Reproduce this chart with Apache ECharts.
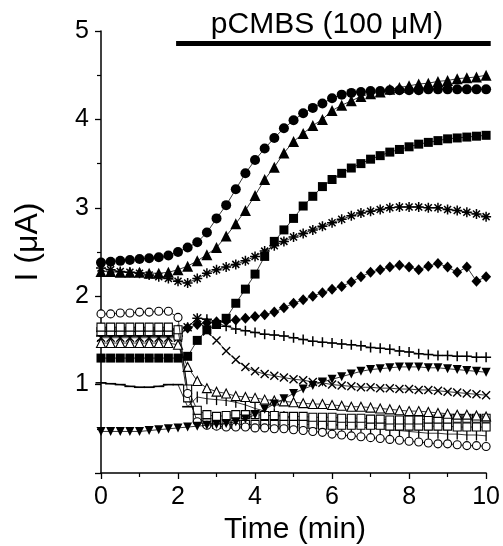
<!DOCTYPE html>
<html>
<head>
<meta charset="utf-8">
<script src="https://cdn.jsdelivr.net/npm/echarts@6/dist/echarts.min.js"></script>
<style>
html,body{margin:0;padding:0;background:#fff;}
#chart{width:503px;height:546px;}
</style>
</head>
<body>
<div id="chart"></div>
<script>
// ---- data ----
const time = [0,0.25,0.5,0.75,1,1.25,1.5,1.75,2,2.25,2.5,2.75,3,3.25,3.5,3.75,4,4.25,4.5,4.75,5,5.25,5.5,5.75,6,6.25,6.5,6.75,7,7.25,7.5,7.75,8,8.25,8.5,8.75,9,9.25,9.5,9.75,10];
const xTicks = [0,2,4,6,8,10];
const yTicks = [1,2,3,4,5];

const filledCircle = [2.38,2.39,2.40,2.41,2.42,2.43,2.44,2.46,2.50,2.55,2.61,2.72,2.88,3.03,3.21,3.39,3.54,3.67,3.79,3.90,3.99,4.07,4.13,4.18,4.24,4.28,4.30,4.31,4.32,4.32,4.33,4.33,4.33,4.33,4.34,4.34,4.34,4.34,4.34,4.34,4.34];
const filledTriUp = [2.28,2.28,2.27,2.27,2.27,2.26,2.26,2.27,2.30,2.34,2.40,2.47,2.55,2.68,2.82,2.97,3.14,3.32,3.46,3.62,3.75,3.84,3.93,4.00,4.10,4.16,4.21,4.26,4.29,4.31,4.34,4.36,4.38,4.40,4.41,4.43,4.44,4.46,4.47,4.48,4.50];
const filledSquare = [1.30,1.30,1.30,1.30,1.30,1.30,1.30,1.30,1.30,1.32,1.50,1.62,1.68,1.75,1.92,2.08,2.25,2.45,2.62,2.75,2.88,3.02,3.13,3.24,3.32,3.39,3.45,3.50,3.55,3.59,3.63,3.66,3.69,3.72,3.74,3.76,3.78,3.79,3.80,3.81,3.82];
const asterisk = [2.32,2.30,2.28,2.27,2.26,2.24,2.22,2.20,2.17,2.15,2.20,2.26,2.30,2.33,2.36,2.40,2.45,2.51,2.57,2.62,2.67,2.71,2.75,2.79,2.83,2.87,2.91,2.94,2.96,2.98,3.00,3.01,3.01,3.01,3.00,3.00,2.98,2.97,2.95,2.93,2.90];
const filledDiamond = [1.60,1.60,1.60,1.60,1.60,1.61,1.61,1.61,1.62,1.64,1.68,1.70,1.71,1.72,1.73,1.75,1.77,1.79,1.82,1.87,1.92,1.96,2.00,2.04,2.08,2.11,2.16,2.22,2.27,2.30,2.33,2.35,2.33,2.30,2.34,2.37,2.33,2.27,2.33,2.17,2.22];
const plusSign = [1.55,1.55,1.55,1.55,1.55,1.55,1.55,1.55,1.55,1.65,1.75,1.74,1.70,1.66,1.63,1.61,1.59,1.57,1.56,1.55,1.53,1.51,1.49,1.48,1.47,1.46,1.45,1.44,1.42,1.41,1.40,1.38,1.37,1.35,1.34,1.33,1.33,1.32,1.32,1.31,1.31];
const crossSign = [1.53,1.53,1.53,1.53,1.53,1.53,1.53,1.53,1.53,1.65,1.75,1.60,1.50,1.38,1.28,1.20,1.15,1.12,1.10,1.08,1.06,1.05,1.03,1.02,1.00,0.99,0.98,0.97,0.97,0.96,0.96,0.95,0.95,0.94,0.94,0.93,0.92,0.91,0.90,0.89,0.88];
const filledTriDown = [0.47,0.47,0.47,0.47,0.47,0.48,0.49,0.50,0.51,0.52,0.53,0.54,0.55,0.56,0.58,0.61,0.66,0.72,0.78,0.84,0.90,0.95,0.99,1.03,1.06,1.09,1.12,1.15,1.17,1.18,1.19,1.20,1.20,1.20,1.19,1.19,1.18,1.17,1.16,1.15,1.14];
const openTriangle = [1.47,1.47,1.47,1.47,1.47,1.47,1.47,1.47,1.45,1.20,1.04,0.96,0.92,0.90,0.87,0.86,0.85,0.83,0.82,0.81,0.80,0.79,0.78,0.78,0.77,0.76,0.75,0.75,0.74,0.73,0.72,0.71,0.70,0.70,0.69,0.68,0.67,0.66,0.66,0.65,0.64];
const openSquareA = [1.65,1.65,1.65,1.65,1.65,1.65,1.65,1.65,1.62,0.95,0.71,0.66,0.64,0.65,0.66,0.66,0.66,0.65,0.65,0.64,0.64,0.64,0.63,0.63,0.63,0.62,0.62,0.62,0.61,0.61,0.60,0.60,0.60,0.60,0.61,0.61,0.61,0.62,0.62,0.62,0.62];
const openSquareB = [1.60,1.60,1.60,1.60,1.60,1.60,1.60,1.60,1.55,0.85,0.62,0.57,0.55,0.55,0.55,0.55,0.55,0.55,0.55,0.55,0.55,0.55,0.55,0.54,0.54,0.54,0.54,0.54,0.54,0.54,0.53,0.53,0.53,0.53,0.53,0.53,0.53,0.52,0.52,0.52,0.52];
const openCircle = [1.80,1.80,1.81,1.81,1.82,1.82,1.83,1.83,1.76,0.90,0.58,0.54,0.53,0.52,0.52,0.52,0.51,0.51,0.50,0.50,0.49,0.48,0.47,0.46,0.44,0.43,0.42,0.41,0.40,0.39,0.38,0.37,0.36,0.35,0.34,0.33,0.33,0.32,0.31,0.31,0.30];
const dashTrace = [1.02,1.01,1.00,0.98,0.97,0.97,0.98,1.00,1.00,0.75,0.86,0.84,0.83,0.82,0.80,0.77,0.73,0.70,0.67,0.64,0.61,0.59,0.57,0.56,0.55,0.54,0.53,0.52,0.51,0.50,0.49,0.48,0.47,0.46,0.45,0.45,0.44,0.44,0.43,0.43,0.42];

const drugLabel = 'pCMBS (100 μM)';
const drugSpan = [1.95, 10.12];
const drugLevel = 4.86;

// ---- chart ----
const FONT = 'Liberation Sans, Arial, sans-serif';
const chart = echarts.init(document.getElementById('chart'), null, {renderer: 'canvas'});

function pairs(vals) { return time.map((t, i) => [t, vals[i]]); }

function mk(name, vals, symbol, size, fill, stroke, bw, z) {
  return {
    name: name, type: 'line', data: pairs(vals), symbol: symbol, symbolSize: size,
    showSymbol: true, z: z,
    itemStyle: {color: fill, borderColor: stroke, borderWidth: bw},
    lineStyle: {color: '#000', width: 0.8},
    emphasis: {disabled: true}
  };
}

const dashData = time.map((t, i) => ({
  value: [t, dashTrace[i]],
  symbol: 'rect',
  symbolSize: i < 10 ? [11, 1.6] : [1.3, 11]
}));

const series = [
  {name: 'trace', type: 'line', data: dashData, z: 1, itemStyle: {color: '#000'},
   lineStyle: {color: '#000', width: 0.8}, emphasis: {disabled: true}},
  mk('diamond', filledDiamond, 'diamond', [10, 11], '#000', '#000', 0, 2),
  mk('plus', plusSign, 'path://M5,0L5,10M0,5L10,5', 10, 'rgba(0,0,0,0)', '#000', 1.5, 3),
  mk('cross', crossSign, 'path://M0,0L10,10M10,0L0,10', 8, 'rgba(0,0,0,0)', '#000', 1.4, 4),
  mk('openSqB', openSquareB, 'rect', 8, '#fff', '#000', 1.1, 5),
  mk('openSqA', openSquareA, 'rect', 8, '#fff', '#000', 1.1, 6),
  mk('openTri', openTriangle, 'triangle', 9, '#fff', '#000', 1.1, 7),
  mk('openCirc', openCircle, 'circle', 8, '#fff', '#000', 1.1, 8),
  mk('triDown', filledTriDown, 'path://M0,0L10,0L5,9Z', 9, '#000', '#000', 0, 9),
  mk('asterisk', asterisk, 'path://M5,0L5,10M0,5L10,5M1.5,1.5L8.5,8.5M8.5,1.5L1.5,8.5', 10, 'rgba(0,0,0,0)', '#000', 1.5, 10),
  mk('square', filledSquare, 'rect', 9, '#000', '#000', 0, 11),
  mk('triUp', filledTriUp, 'triangle', 11, '#000', '#000', 0, 12),
  mk('circle', filledCircle, 'circle', 10, '#000', '#000', 0, 13)
];

const axisCommon = {
  axisLine: {show: true, lineStyle: {color: '#000', width: 1.5}},
  axisTick: {show: true, inside: false, length: 6, lineStyle: {color: '#000', width: 1.3}},
  minorTick: {show: true, splitNumber: 2, length: 4, lineStyle: {color: '#000', width: 1.2}},
  splitLine: {show: false},
  axisLabel: {color: '#000', fontSize: 25, fontFamily: FONT, margin: 12}
};

const option = {
  animation: false,
  backgroundColor: '#fff',
  grid: {left: 101, right: 15, top: 31, bottom: 73, containLabel: false},
  xAxis: Object.assign({}, axisCommon, {
    type: 'value', min: xTicks[0], max: xTicks[xTicks.length - 1], interval: xTicks[1] - xTicks[0]
  }),
  yAxis: Object.assign({}, axisCommon, {
    type: 'value', min: 0, max: yTicks[yTicks.length - 1], interval: yTicks[1] - yTicks[0],
    axisLabel: Object.assign({}, axisCommon.axisLabel, {showMinLabel: false})
  }),
  series: series
};

chart.setOption(option);

const a = chart.convertToPixel({gridIndex: 0}, [drugSpan[0], drugLevel]);
const b = chart.convertToPixel({gridIndex: 0}, [drugSpan[1], drugLevel]);
chart.setOption({
  graphic: [
    {type: 'line', shape: {x1: a[0], y1: a[1], x2: b[0], y2: b[1]},
     style: {stroke: '#000', lineWidth: 5}, z: 100},
    {type: 'text', x: 327, y: 25, z: 100,
     style: {text: drugLabel, font: '30px ' + FONT, fill: '#000', align: 'center', verticalAlign: 'middle'}},
    {type: 'text', x: 295, y: 530, z: 100,
     style: {text: 'Time (min)', font: '30px ' + FONT, fill: '#000', align: 'center', verticalAlign: 'middle'}},
    {type: 'text', x: 28, y: 242, rotation: Math.PI / 2, z: 100,
     style: {text: 'I (μA)', font: '32px ' + FONT, fill: '#000', align: 'center', verticalAlign: 'middle'}}
  ]
});
</script>
</body>
</html>
